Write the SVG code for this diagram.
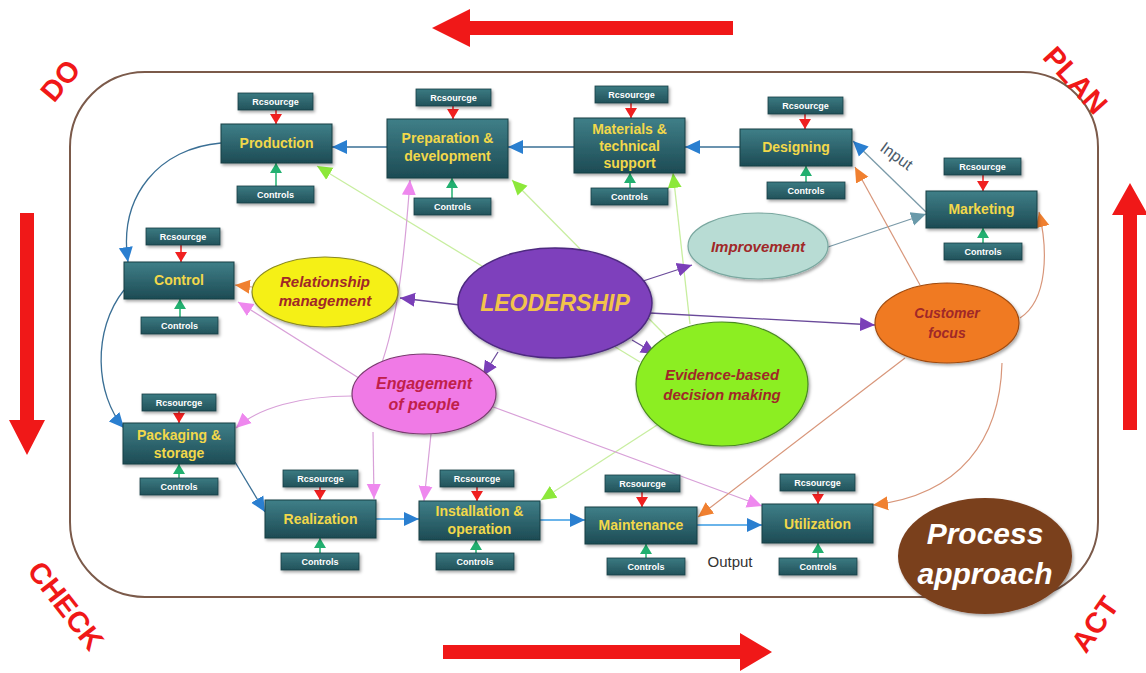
<svg xmlns="http://www.w3.org/2000/svg" width="1146" height="673" viewBox="0 0 1146 673">
<defs>
<linearGradient id="gBox" x1="0" y1="0" x2="0" y2="1"><stop offset="0" stop-color="#3f7f88"/><stop offset="1" stop-color="#1d4b54"/></linearGradient>
<linearGradient id="gSmall" x1="0" y1="0" x2="0" y2="1"><stop offset="0" stop-color="#3b7a82"/><stop offset="1" stop-color="#22525a"/></linearGradient>
<filter id="sh" x="-20%" y="-20%" width="140%" height="150%"><feDropShadow dx="1.5" dy="2" stdDeviation="1.5" flood-color="#000" flood-opacity="0.35"/></filter>
<marker id="mBlue" markerUnits="userSpaceOnUse" markerWidth="16" markerHeight="16" refX="15" refY="8" orient="auto"><path d="M0,1 L15,8 L0,15 z" fill="#2a7fd0"/></marker>
<marker id="mPurple" markerUnits="userSpaceOnUse" markerWidth="16" markerHeight="16" refX="15" refY="8" orient="auto"><path d="M0,1 L15,8 L0,15 z" fill="#7a3fb8"/></marker>
<marker id="mOrange" markerUnits="userSpaceOnUse" markerWidth="16" markerHeight="16" refX="15" refY="8" orient="auto"><path d="M0,1 L15,8 L0,15 z" fill="#f08030"/></marker>
<marker id="mGreen" markerUnits="userSpaceOnUse" markerWidth="16" markerHeight="16" refX="15" refY="8" orient="auto"><path d="M0,1 L15,8 L0,15 z" fill="#8ce83a"/></marker>
<marker id="mPink" markerUnits="userSpaceOnUse" markerWidth="16" markerHeight="16" refX="15" refY="8" orient="auto"><path d="M0,1 L15,8 L0,15 z" fill="#ee88ee"/></marker>
<marker id="mGray" markerUnits="userSpaceOnUse" markerWidth="16" markerHeight="16" refX="15" refY="8" orient="auto"><path d="M0,1 L15,8 L0,15 z" fill="#6a9aaa"/></marker>
<marker id="mRed" markerUnits="userSpaceOnUse" markerWidth="12" markerHeight="12" refX="10" refY="6" orient="auto"><path d="M0,0 L10,6 L0,12 z" fill="#f02020"/></marker>
<marker id="mCtl" markerUnits="userSpaceOnUse" markerWidth="12" markerHeight="12" refX="10" refY="6" orient="auto"><path d="M0,0 L10,6 L0,12 z" fill="#22b070"/></marker>
<style>
.box{fill:url(#gBox);stroke:#173e45;stroke-width:1;filter:url(#sh)}
.sm{fill:url(#gSmall);stroke:#173e45;stroke-width:0.8;filter:url(#sh)}
.bt{font-family:"Liberation Sans",Arial,sans-serif;font-weight:bold;font-size:14px;fill:#f2d84a;text-anchor:middle}
.st{font-family:"Liberation Sans",Arial,sans-serif;font-weight:bold;font-size:9px;fill:#ffffff;text-anchor:middle}
.et{font-family:"Liberation Sans",Arial,sans-serif;font-weight:bold;font-style:italic;font-size:15px;fill:#a02828;text-anchor:middle}
.res{stroke:#f02020;stroke-width:1.5;fill:none;marker-end:url(#mRed)}
.ctl{stroke:#22b070;stroke-width:1.5;fill:none;marker-end:url(#mCtl)}
.blue{stroke:#3a6f95;stroke-width:1.3;fill:none;marker-end:url(#mBlue)}
.lblue{stroke:#6ab4ea;stroke-width:2.2;fill:none;marker-end:url(#mBlue)}
.pur{stroke:#6a4a9a;stroke-width:1.3;fill:none;marker-end:url(#mPurple)}
.org{stroke:#d8967a;stroke-width:1.2;fill:none;marker-end:url(#mOrange)}
.grn{stroke:#c8eea0;stroke-width:1.3;fill:none;marker-end:url(#mGreen)}
.pnk{stroke:#d8a0d8;stroke-width:1.2;fill:none;marker-end:url(#mPink)}
.gry{stroke:#7a9aa8;stroke-width:1.3;fill:none;marker-end:url(#mGray)}
.pdca{font-family:"Liberation Sans",Arial,sans-serif;font-weight:bold;font-size:29px;fill:#f01818;text-anchor:middle}
</style>
</defs>
<rect width="1146" height="673" fill="#ffffff"/>

<g id="frame">
<rect x="70" y="72" width="1028" height="525" rx="75" ry="75" fill="none" stroke="#7b5a4a" stroke-width="2"/>
<polygon points="432,28 470,9 470,21 733,21 733,35 470,35 470,47" fill="#f01818"/>
<polygon points="1130,183 1148,215 1137,215 1137,430 1123,430 1123,215 1112,215" fill="#f01818"/>
<polygon points="27,455 9,420 20,420 20,213 34,213 34,420 45,420" fill="#f01818"/>
<polygon points="772,652 740,633 740,645 443,645 443,659 740,659 740,671" fill="#f01818"/>
<text class="pdca" transform="translate(68,87) rotate(-50)">DO</text>
<text class="pdca" transform="translate(1068,87) rotate(48)">PLAN</text>
<text class="pdca" transform="translate(58,612) rotate(52)">CHECK</text>
<text class="pdca" transform="translate(1103,630) rotate(-55)">ACT</text>
</g>

<g id="connectors">
<path class="blue" d="M387,147 L332,147"/>
<path class="blue" d="M574,147 L508,147"/>
<path class="blue" d="M740,147 L685,147"/>
<path class="gry" d="M926,212 L853,141" style="marker-end:url(#mBlue)"/>
<text x="0" y="0" transform="translate(879,150) rotate(36)" font-family="Liberation Sans,Arial,sans-serif" font-size="16" fill="#4a5a6a">Input</text>
<path class="blue" d="M221,143 C160,148 118,195 128,262"/>
<path class="blue" d="M124,290 C92,330 95,395 124,428"/>
<path class="blue" d="M235,462 L265,512"/>
<path class="lblue" d="M376,519 L419,519"/>
<path class="lblue" d="M540,520 L585,520"/>
<path class="lblue" d="M697,525 L762,525"/>

<path class="grn" d="M640,362 L317,166"/>
<path class="grn" d="M668,338 L512,180"/>
<path class="grn" d="M690,324 L673,173"/>
<path class="grn" d="M668,418 L541,500"/>

<path class="pnk" d="M380,368 C398,320 405,250 410,180"/>
<path class="pnk" d="M362,380 L238,302"/>
<path class="pnk" d="M352,396 C300,396 258,408 236,428"/>
<path class="pnk" d="M373,432 L374,499"/>
<path class="pnk" d="M431,434 L424,501"/>
<path class="pnk" d="M488,405 L762,506"/>

<path class="pur" d="M640,282 L692,265"/>
<path class="pur" d="M460,305 L400,298"/>
<path class="pur" d="M650,313 L875,325"/>
<path class="pur" d="M498,352 L483,376"/>
<path class="pur" d="M632,340 L656,354"/>

<path class="gry" d="M825,248 L926,214"/>

<path class="org" d="M252,287 L235,285"/>
<path class="org" d="M920,285 L855,167"/>
<path class="org" d="M1020,318 C1048,300 1048,250 1039,212"/>
<path class="org" d="M905,358 L698,517"/>
<path class="org" d="M1002,363 C1000,440 960,495 873,505"/>

<path class="res" d="M276,110 L276,124"/><path class="ctl" d="M276,186 L276,163"/>
<path class="res" d="M453,106 L453,119"/><path class="ctl" d="M452,198 L452,178"/>
<path class="res" d="M631,103 L631,118"/><path class="ctl" d="M630,188 L630,173"/>
<path class="res" d="M805,114 L805,129"/><path class="ctl" d="M806,182 L806,166"/>
<path class="res" d="M983,175 L983,191"/><path class="ctl" d="M983,243 L983,228"/>
<path class="res" d="M181,245 L181,262"/><path class="ctl" d="M180,317 L180,299"/>
<path class="res" d="M179,411 L179,423"/><path class="ctl" d="M179,478 L179,464"/>
<path class="res" d="M320,487 L320,500"/><path class="ctl" d="M320,553 L320,538"/>
<path class="res" d="M477,487 L477,501"/><path class="ctl" d="M476,553 L476,540"/>
<path class="res" d="M642,492 L642,507"/><path class="ctl" d="M646,558 L646,544"/>
<path class="res" d="M818,491 L818,504"/><path class="ctl" d="M818,558 L818,543"/>
<text x="730" y="567" text-anchor="middle" font-family="Liberation Sans,Arial,sans-serif" font-size="15" fill="#333">Output</text>
</g>

<g id="production">
<rect class="sm" x="238" y="93" width="75" height="17"/><text class="st" x="275.5" y="105">Rcsourcge</text>
<rect class="box" x="221" y="124" width="111" height="39"/><text class="bt" x="276.5" y="148">Production</text>
<rect class="sm" x="237" y="186" width="77" height="17"/><text class="st" x="275.5" y="198">Controls</text>
</g>
<g id="preparation">
<rect class="sm" x="416" y="89" width="75" height="17"/><text class="st" x="453.5" y="101">Rcsourcge</text>
<rect class="box" x="387" y="119" width="121" height="59"/><text class="bt" x="447.5" y="143">Preparation &amp;</text><text class="bt" x="447.5" y="161">development</text>
<rect class="sm" x="414" y="198" width="77" height="17"/><text class="st" x="452.5" y="210">Controls</text>
</g>
<g id="materials">
<rect class="sm" x="595" y="86" width="73" height="17"/><text class="st" x="631.5" y="98">Rcsourcge</text>
<rect class="box" x="574" y="118" width="111" height="55"/><text class="bt" x="629.5" y="134">Materials &amp;</text><text class="bt" x="629.5" y="151">technical</text><text class="bt" x="629.5" y="168">support</text>
<rect class="sm" x="591" y="188" width="77" height="17"/><text class="st" x="629.5" y="200">Controls</text>
</g>
<g id="designing">
<rect class="sm" x="768" y="97" width="75" height="17"/><text class="st" x="805.5" y="109">Rcsourcge</text>
<rect class="box" x="740" y="129" width="112" height="37"/><text class="bt" x="796" y="152">Designing</text>
<rect class="sm" x="767" y="182" width="78" height="17"/><text class="st" x="806" y="194">Controls</text>
</g>
<g id="marketing">
<rect class="sm" x="944" y="158" width="77" height="17"/><text class="st" x="982.5" y="170">Rcsourcge</text>
<rect class="box" x="926" y="191" width="111" height="37"/><text class="bt" x="981.5" y="214">Marketing</text>
<rect class="sm" x="944" y="243" width="78" height="17"/><text class="st" x="983" y="255">Controls</text>
</g>
<g id="control">
<rect class="sm" x="146" y="228" width="74" height="17"/><text class="st" x="183" y="240">Rcsourcge</text>
<rect class="box" x="124" y="262" width="110" height="37"/><text class="bt" x="179" y="285">Control</text>
<rect class="sm" x="141" y="317" width="77" height="17"/><text class="st" x="179.5" y="329">Controls</text>
</g>
<g id="packaging">
<rect class="sm" x="142" y="394" width="74" height="17"/><text class="st" x="179" y="406">Rcsourcge</text>
<rect class="box" x="123" y="423" width="112" height="41"/><text class="bt" x="179" y="440">Packaging &amp;</text><text class="bt" x="179" y="458">storage</text>
<rect class="sm" x="140" y="478" width="78" height="17"/><text class="st" x="179" y="490">Controls</text>
</g>
<g id="realization">
<rect class="sm" x="283" y="470" width="75" height="17"/><text class="st" x="320.5" y="482">Rcsourcge</text>
<rect class="box" x="265" y="500" width="111" height="38"/><text class="bt" x="320.5" y="524">Realization</text>
<rect class="sm" x="281" y="553" width="78" height="17"/><text class="st" x="320" y="565">Controls</text>
</g>
<g id="installation">
<rect class="sm" x="440" y="470" width="74" height="17"/><text class="st" x="477" y="482">Rcsourcge</text>
<rect class="box" x="419" y="501" width="121" height="39"/><text class="bt" x="479.5" y="516">Installation &amp;</text><text class="bt" x="479.5" y="534">operation</text>
<rect class="sm" x="436" y="553" width="78" height="17"/><text class="st" x="475" y="565">Controls</text>
</g>
<g id="maintenance">
<rect class="sm" x="605" y="475" width="75" height="17"/><text class="st" x="642.5" y="487">Rcsourcge</text>
<rect class="box" x="585" y="507" width="112" height="37"/><text class="bt" x="641" y="530">Maintenance</text>
<rect class="sm" x="607" y="558" width="78" height="17"/><text class="st" x="646" y="570">Controls</text>
</g>
<g id="utilization">
<rect class="sm" x="780" y="474" width="75" height="17"/><text class="st" x="817.5" y="486">Rcsourcge</text>
<rect class="box" x="762" y="504" width="111" height="39"/><text class="bt" x="817.5" y="529">Utilization</text>
<rect class="sm" x="779" y="558" width="78" height="17"/><text class="st" x="818" y="570">Controls</text>
</g>

<g id="leadership">
<ellipse cx="555" cy="303" rx="97" ry="55" fill="#7e40bc" stroke="#4e2a80" stroke-width="1.5" filter="url(#sh)"/>
<text x="555" y="311" text-anchor="middle" font-family="Liberation Sans,Arial,sans-serif" font-weight="bold" font-style="italic" font-size="23" fill="#f2c44a">LEODERSHIP</text>
</g>
<g id="improvement">
<ellipse cx="758" cy="246" rx="70" ry="33" fill="#b8dcd4" stroke="#7aa8a0" stroke-width="1.2" filter="url(#sh)"/>
<text class="et" x="758" y="252">Improvement</text>
</g>
<g id="relationship">
<ellipse cx="325" cy="292" rx="73" ry="35" fill="#f5f012" stroke="#8a8a20" stroke-width="1.2" filter="url(#sh)"/>
<text class="et" x="325" y="287">Relationship</text><text class="et" x="325" y="306">management</text>
</g>
<g id="customer">
<ellipse cx="947" cy="323" rx="72" ry="40" fill="#f07a20" stroke="#a04a10" stroke-width="1.2" filter="url(#sh)"/>
<text class="et" x="947" y="318" style="font-size:14px">Customer</text><text class="et" x="947" y="338" style="font-size:14px">focus</text>
</g>
<g id="engagement">
<ellipse cx="424" cy="394" rx="72" ry="40" fill="#f07ae6" stroke="#7a3a70" stroke-width="1.2" filter="url(#sh)"/>
<text class="et" x="424" y="389" style="font-size:16px;fill:#c0204a">Engagement</text><text class="et" x="424" y="410" style="font-size:16px;fill:#c0204a">of people</text>
</g>
<g id="evidence">
<ellipse cx="722" cy="384" rx="86" ry="62" fill="#8cee24" stroke="#4a8a20" stroke-width="1.2" filter="url(#sh)"/>
<text class="et" x="722" y="380">Evidence-based</text><text class="et" x="722" y="400">decision making</text>
</g>
<g id="process-approach">
<ellipse cx="985" cy="556" rx="87" ry="58" fill="#7a3f1e" filter="url(#sh)"/>
<text x="985" y="544" text-anchor="middle" font-family="Liberation Sans,Arial,sans-serif" font-weight="bold" font-style="italic" font-size="30" fill="#ffffff">Process</text>
<text x="985" y="584" text-anchor="middle" font-family="Liberation Sans,Arial,sans-serif" font-weight="bold" font-style="italic" font-size="30" fill="#ffffff">approach</text>
</g>
</svg>
